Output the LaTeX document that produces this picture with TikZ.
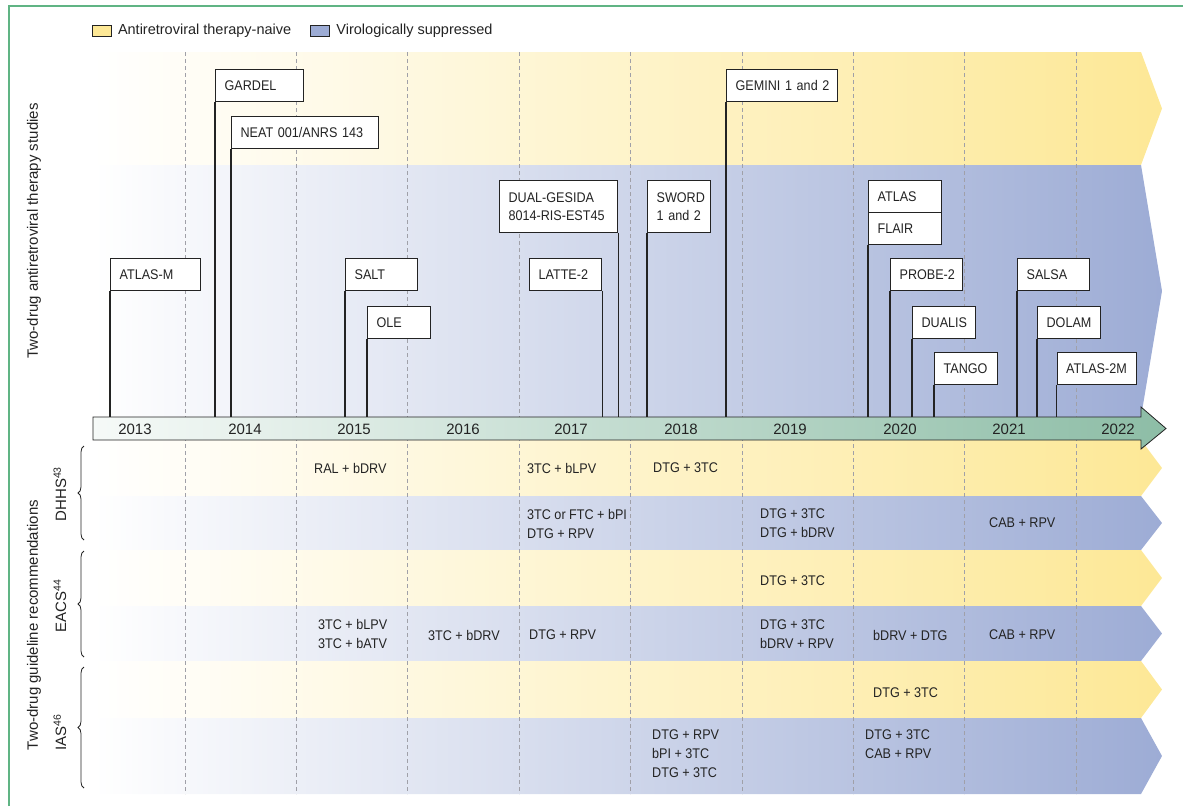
\documentclass[tikz,border=0pt]{standalone}
\usepackage{fontspec}
\setmainfont{Liberation Sans}
\newfontfamily\narrowfont[FakeStretch=0.9]{Liberation Sans}
\usepackage{tikz}
\usetikzlibrary{positioning,decorations.pathreplacing}

\definecolor{naiveylw}{RGB}{253,232,150}
\definecolor{supprblu}{RGB}{157,172,213}
\definecolor{tlgreen}{RGB}{141,189,166}
\definecolor{framegrn}{RGB}{96,180,132}
\definecolor{inkgray}{RGB}{35,35,35}
\definecolor{dashgray}{RGB}{160,160,168}

\begin{document}
\begin{tikzpicture}[
  x=1pt, y=-1pt,
  study/.style={
    draw=inkgray,
    line width=1.2pt,
    fill=white,
    anchor=north west,
    minimum height=32pt,
    inner xsep=9pt,
    inner ysep=0pt,
    align=left,
    text width=#1,
    text=inkgray,
    font=\narrowfont\fontsize{14}{18.5}\selectfont
  },
  stem/.style={draw=inkgray,line width=1.2pt},
  regimen/.style={anchor=west,inner sep=0pt,align=left,text=inkgray,
    font=\narrowfont\fontsize{14}{19}\selectfont},
  year/.style={inner sep=0pt,text=inkgray,font=\fontsize{15}{15}\selectfont},
  sidelbl/.style={rotate=90,inner sep=0pt,text=inkgray,font=\fontsize{15}{15}\selectfont},
  legsq/.style={draw=inkgray,line width=0.8pt,minimum width=19pt,minimum height=11pt,inner sep=0pt},
  legtxt/.style={inner sep=0pt,text=inkgray,font=\fontsize{14.5}{14.5}\selectfont},
  yeardiv/.style={dashgray,line width=0.8pt,dash pattern=on 4pt off 3pt},
  bracket/.style={draw=inkgray,line width=0.8pt,decorate,decoration={brace,amplitude=6pt}}
]
  \useasboundingbox (0,0) rectangle (1183,806);

  % frame
  \draw[framegrn,line width=1.2pt] (9,806) -- (9,6) -- (1183,6);

  % study bands
  \shade[left color=white,right color=naiveylw] (93,52) -- (1141,52) -- (1162,108.5) -- (1141,165) -- (93,165) -- cycle;
  \shade[left color=white,right color=supprblu] (93,165) -- (1141,165) -- (1162,291) -- (1141,417) -- (93,417) -- cycle;

  % guideline rows
  \foreach \ytop/\ybot/\clr in {440/496/naiveylw,496/550/supprblu,550/606/naiveylw,
                                606/661/supprblu,661/718/naiveylw,718/794/supprblu}
    \shade[left color=white,right color=\clr] (93,\ytop) -- (1141,\ytop)
      -- (1162,{(\ytop+\ybot)/2}) -- (1141,\ybot) -- (93,\ybot) -- cycle;

  % year dividers
  \foreach \k in {0,...,8}
    \draw[yeardiv] ({185+111.4*\k},52) -- ({185+111.4*\k},794);

  % timeline
  \draw[inkgray,line width=0.8pt,left color=white!92!tlgreen,right color=tlgreen]
    (93,417) -- (1141,417) -- (1141,407) -- (1166,428.5) -- (1141,449) -- (1141,440) -- (93,440) -- cycle;
  \node[inner sep=0pt,minimum width=1048pt,minimum height=23pt,anchor=north west] (tl) at (93,417) {};
  \foreach \yr/\xx in {2013/135,2014/245,2015/354,2016/463,2017/571,
                       2018/681,2019/790,2020/900,2021/1009,2022/1118}
    \node[year] (yr\yr) at (\xx,429) {\yr};

  % studies
  \node[study=70pt] (gardel) at (215,69) {GARDEL};
  \node[study=129pt] (neat) at (231,116) {\mbox{NEAT 001/ANRS 143}};
  \node[study=93pt] (gemini) at (726,69) {\mbox{GEMINI 1 and 2}};
  \node[study=72pt] (atlasm) at (110,258) {\mbox{ATLAS-M}};
  \node[study=54pt] (salt) at (345,258) {SALT};
  \node[study=45pt] (ole) at (367,306) {OLE};
  \node[study=100pt,minimum height=52pt] (dualgesida) at (499,180) {\mbox{DUAL-GESIDA}\\\mbox{8014-RIS-EST45}};
  \node[study=54pt] (latte) at (529,258) {\mbox{LATTE-2}};
  \node[study=45pt,minimum height=52pt] (sword) at (647,180) {SWORD\\\mbox{1 and 2}};
  \node[study=54.5pt] (atlas) at (868,180) {ATLAS};
  \node[study=54.5pt,below=-1.2pt of atlas.south west,anchor=north west] (flair) {FLAIR};
  \node[study=54pt] (probe) at (890,258) {\mbox{PROBE-2}};
  \node[study=45pt] (dualis) at (912,306) {DUALIS};
  \node[study=45pt] (tango) at (934,352) {TANGO};
  \node[study=54pt] (salsa) at (1017,258) {SALSA};
  \node[study=45pt] (dolam) at (1037,306) {DOLAM};
  \node[study=61.5pt] (atlastwom) at (1056.5,352) {\mbox{ATLAS-2M}};

  \foreach \s in {gardel,neat,gemini,atlasm,salt,ole,sword,flair,probe,dualis,tango,salsa,dolam,atlastwom}
    \draw[stem] (\s.south west) -- (\s.south west |- tl.north);
  \foreach \s in {dualgesida,latte}
    \draw[stem] (\s.south east) -- (\s.south east |- tl.north);

  % DHHS
  \node[regimen] (dhhsnA) at (314,468) {RAL + bDRV};
  \node[regimen] (dhhsnB) at (527,468) {3TC + bLPV};
  \node[regimen] (dhhsnC) at (653,468) {DTG + 3TC};
  \node[regimen] (dhhssA) at (527,523.5) {3TC or FTC + bPI\\DTG + RPV};
  \node[regimen] (dhhssB) at (760,523.5) {DTG + 3TC\\DTG + bDRV};
  \node[regimen] (dhhssC) at (989,523) {CAB + RPV};

  % EACS
  \node[regimen] (eacsnA) at (760,581) {DTG + 3TC};
  \node[regimen] (eacssA) at (318,634) {3TC + bLPV\\3TC + bATV};
  \node[regimen] (eacssB) at (428,635) {3TC + bDRV};
  \node[regimen] (eacssC) at (529,635) {DTG + RPV};
  \node[regimen] (eacssD) at (760,634) {DTG + 3TC\\bDRV + RPV};
  \node[regimen] (eacssE) at (873,635) {bDRV + DTG};
  \node[regimen] (eacssF) at (989,635) {CAB + RPV};

  % IAS
  \node[regimen] (iasnA) at (873,693) {DTG + 3TC};
  \node[regimen] (iassA) at (652,754) {DTG + RPV\\bPI + 3TC\\DTG + 3TC};
  \node[regimen] (iassB) at (865,744.5) {DTG + 3TC\\CAB + RPV};

  % braces and side labels
  \draw[bracket] (84,540) -- (84,446);
  \draw[bracket] (84,657) -- (84,551);
  \draw[bracket] (84,788) -- (84,667);
  \node[sidelbl] (studylbl) at (34,231) {Two-drug antiretroviral therapy studies};
  \node[sidelbl] (guidelbl) at (34,625) {Two-drug guideline recommendations};
  \node[sidelbl] (dhhslbl) at (60,494) {DHHS\textsuperscript{43}};
  \node[sidelbl] (eacslbl) at (60,606) {EACS\textsuperscript{44}};
  \node[sidelbl] (iaslbl) at (60,732) {IAS\textsuperscript{46}};

  % legend
  \node[legsq,fill=naiveylw,anchor=north west] (legnaive) at (92,25) {};
  \node[legtxt,right=6pt of legnaive] (legnaivetxt) {Antiretroviral therapy-naive};
  \node[legsq,fill=supprblu,right=19pt of legnaivetxt] (legsupp) {};
  \node[legtxt,right=6pt of legsupp] (legsupptxt) {Virologically suppressed};
\end{tikzpicture}
\end{document}
